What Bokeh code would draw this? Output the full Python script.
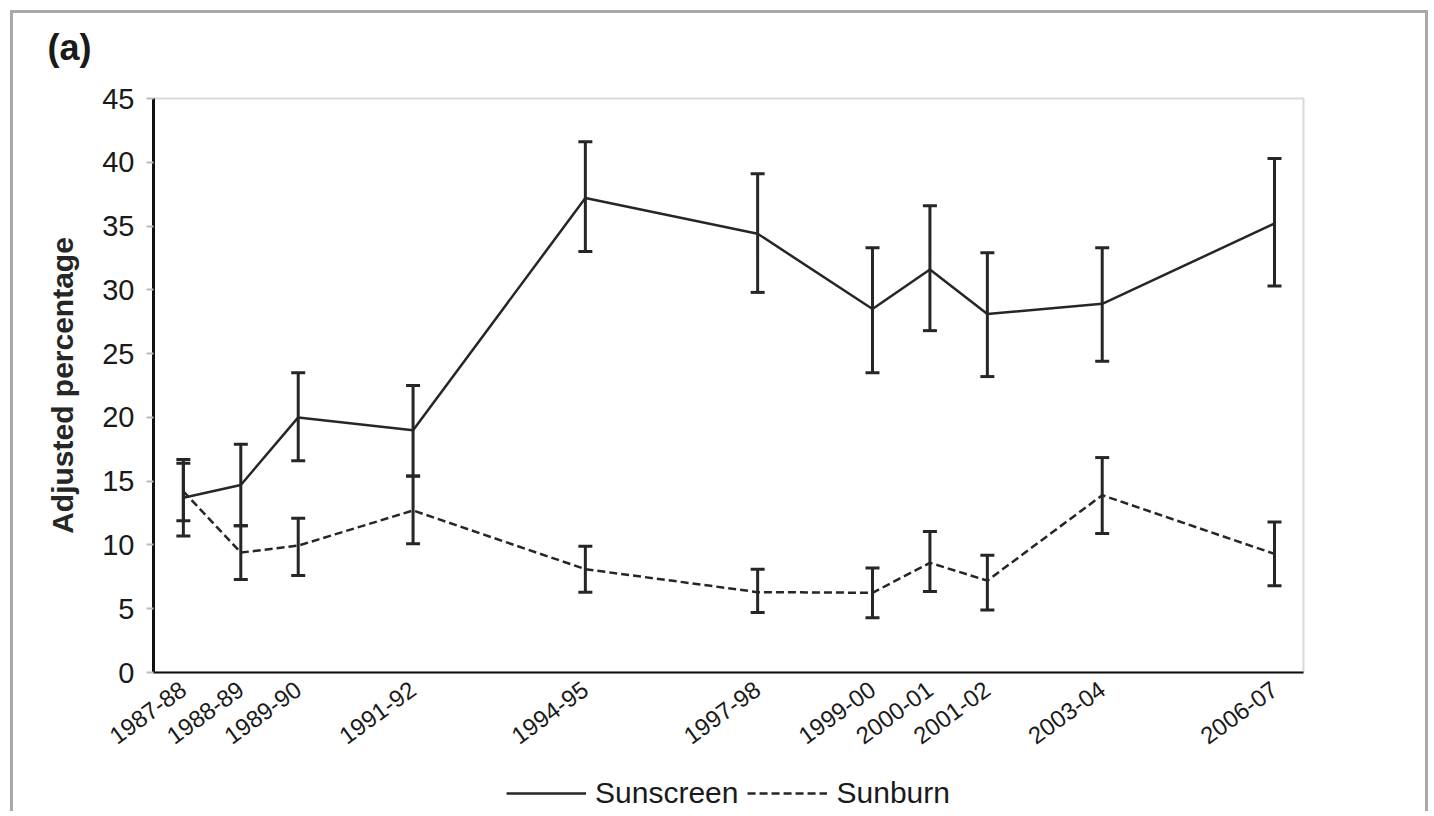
from bokeh.plotting import figure
from bokeh.layouts import column
from bokeh.models import (ColumnDataSource, Whisker, TeeHead, Legend, LegendItem,
                          FixedTicker, Range1d)
from bokeh.embed import file_html
from bokeh.resources import INLINE

# ---- data ----
years = [1987, 1988, 1989, 1991, 1994, 1997, 1999, 2000, 2001, 2003, 2006]
year_labels = ["1987-88", "1988-89", "1989-90", "1991-92", "1994-95", "1997-98",
               "1999-00", "2000-01", "2001-02", "2003-04", "2006-07"]
sunscreen = [13.7, 14.7, 20.0, 19.0, 37.2, 34.4, 28.5, 31.6, 28.1, 28.9, 35.2]
sunscreen_lo = [10.7, 11.5, 16.6, 15.4, 33.0, 29.8, 23.5, 26.8, 23.2, 24.4, 30.3]
sunscreen_hi = [16.7, 17.9, 23.5, 22.5, 41.6, 39.1, 33.3, 36.6, 32.9, 33.3, 40.3]
sunburn = [14.2, 9.4, 9.95, 12.7, 8.1, 6.3, 6.25, 8.6, 7.2, 13.9, 9.3]
sunburn_lo = [11.9, 7.3, 7.6, 10.1, 6.3, 4.7, 4.3, 6.35, 4.9, 10.9, 6.8]
sunburn_hi = [16.4, 11.5, 12.1, 15.4, 9.9, 8.1, 8.2, 11.05, 9.2, 16.85, 11.8]
y_ticks = [0, 5, 10, 15, 20, 25, 30, 35, 40, 45]
series_names = ["Sunscreen", "Sunburn"]

INK = "#262626"
FONT = "Liberation Sans"
FRAME = "3px solid #a8a8a8"

src = ColumnDataSource(dict(x=years, ss=sunscreen, ss_lo=sunscreen_lo, ss_hi=sunscreen_hi,
                            sb=sunburn, sb_lo=sunburn_lo, sb_hi=sunburn_hi))

p = figure(width=1418, height=765, output_backend="svg", toolbar_location=None,
           x_range=Range1d(1986.48, 2006.505), y_range=Range1d(0, 45),
           min_border_left=140, min_border_right=128, min_border_top=85,
           min_border_bottom=106, title="(a)")
p.margin = (10, 0, 0, 10)
p.styles = {"border-left": FRAME, "border-top": FRAME, "border-right": FRAME}

p.title.text_font = FONT
p.title.text_font_size = "36px"
p.title.text_font_style = "bold"
p.title.text_color = "#1a1a1a"
p.title.align = "left"
p.title.offset = -106
p.title.padding = dict(left=0, right=0, top=0, bottom=26)

p.xgrid.visible = False
p.ygrid.visible = False
p.outline_line_color = "#d9d9d9"
p.outline_line_width = 2

# y axis
p.yaxis.ticker = FixedTicker(ticks=y_ticks)
p.yaxis.axis_line_width = 3
p.yaxis.axis_line_color = "#111111"
p.yaxis.major_tick_out = 7
p.yaxis.major_tick_in = 0
p.yaxis.major_tick_line_color = "#bbbbbb"
p.yaxis.major_tick_line_width = 2
p.yaxis.minor_tick_line_color = None
p.yaxis.major_label_text_font = FONT
p.yaxis.major_label_text_font_size = "29px"
p.yaxis.major_label_text_color = "#1a1a1a"
p.yaxis.major_label_standoff = 12
p.yaxis.axis_label = "Adjusted percentage"
p.yaxis.axis_label_text_font = FONT
p.yaxis.axis_label_text_font_size = "30px"
p.yaxis.axis_label_text_font_style = "bold"
p.yaxis.axis_label_text_color = "#262626"
p.yaxis.axis_label_standoff = 20

# x axis
p.xaxis.ticker = FixedTicker(ticks=years)
p.xaxis.major_label_overrides = {y: l for y, l in zip(years, year_labels)}
p.xaxis.major_label_orientation = 0.63
p.xaxis.major_tick_line_color = None
p.xaxis.minor_tick_line_color = None
p.xaxis.axis_line_width = 2
p.xaxis.axis_line_color = "#111111"
p.xaxis.major_label_text_font = FONT
p.xaxis.major_label_text_font_size = "24px"
p.xaxis.major_label_text_color = "#1a1a1a"
p.xaxis.major_label_standoff = 8

# error bars
for lo, hi in (("ss_lo", "ss_hi"), ("sb_lo", "sb_hi")):
    w = Whisker(source=src, base="x", lower=lo, upper=hi, line_color=INK, line_width=3,
                upper_head=TeeHead(size=14, line_color=INK, line_width=3),
                lower_head=TeeHead(size=14, line_color=INK, line_width=3))
    p.add_layout(w)

p.line("x", "ss", source=src, line_color=INK, line_width=2.5)
p.line("x", "sb", source=src, line_color=INK, line_width=2.5, line_dash="8 4")

# ---- legend strip below the chart ----
leg = figure(width=1418, height=36, output_backend="svg", toolbar_location=None,
             x_range=Range1d(0, 1), y_range=Range1d(0, 1),
             x_axis_location=None, y_axis_location=None,
             min_border_left=0, min_border_right=0, min_border_top=0, min_border_bottom=0)
leg.margin = (0, 0, 0, 10)
leg.styles = {"border-left": FRAME, "border-right": FRAME}
leg.outline_line_color = None
leg.xgrid.visible = False
leg.ygrid.visible = False
nan = float("nan")
key_src = ColumnDataSource(dict(x=[nan], y=[nan]))
k1 = leg.line("x", "y", source=key_src, line_color=INK, line_width=2.5)
k2 = leg.line("x", "y", source=key_src, line_color=INK, line_width=2.5, line_dash="8 4")
legend = Legend(items=[LegendItem(label=series_names[0], renderers=[k1]),
                       LegendItem(label=series_names[1], renderers=[k2])],
                orientation="horizontal", location="center",
                glyph_width=80, glyph_height=20, label_standoff=9, spacing=9,
                label_text_font=FONT, label_text_font_size="30px",
                label_text_color="#1a1a1a", border_line_color=None,
                background_fill_alpha=0, padding=0, margin=0)
leg.add_layout(legend)

layout = column(p, leg, spacing=0)
open("out.html", "w").write(file_html(layout, INLINE))
